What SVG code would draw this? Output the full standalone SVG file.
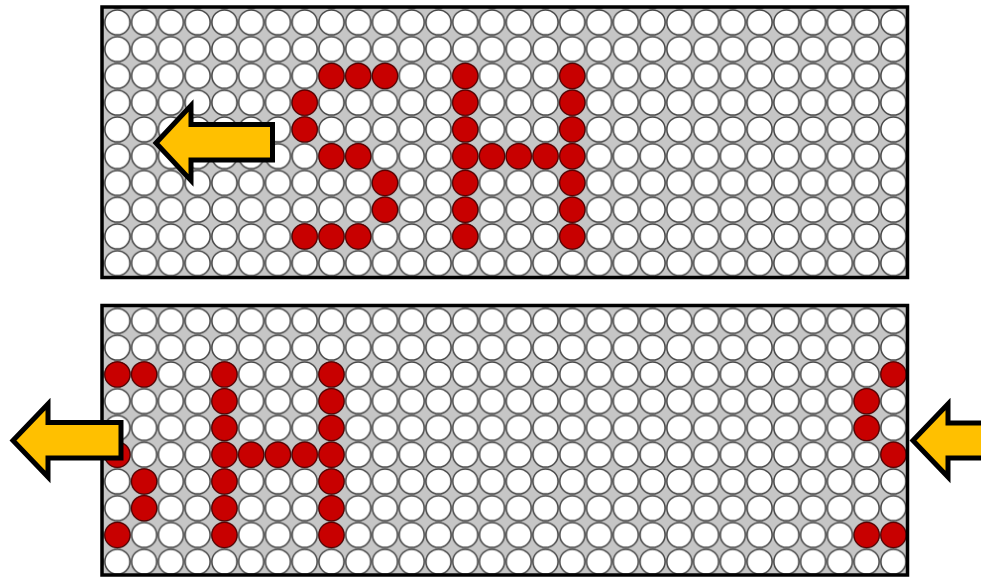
<svg xmlns="http://www.w3.org/2000/svg" xmlns:xlink="http://www.w3.org/1999/xlink" width="981" height="578" viewBox="0 0 981 578">
<style>
.bg{fill:#c6c6c6}
.dot{fill:#ffffff;stroke:#454545;stroke-width:1.5}
.red{fill:#c80000;stroke:#5a0000;stroke-width:1.2}
.frame{fill:none;stroke:#000000;stroke-width:3.5}
.arrow{fill:#ffc000;stroke:#000000;stroke-width:5;stroke-linejoin:miter;stroke-miterlimit:10}
</style>
<defs>
<pattern id="gridTop" patternUnits="userSpaceOnUse" x="104" y="9" width="26.76" height="26.76">
<rect class="bg" x="0" y="0" width="26.76" height="26.76"/>
<circle class="dot" cx="13.38" cy="13.38" r="12.5"/>
</pattern>
<pattern id="gridBottom" patternUnits="userSpaceOnUse" x="104" y="307.5" width="26.76" height="26.76">
<rect class="bg" x="0" y="0" width="26.76" height="26.76"/>
<circle class="dot" cx="13.38" cy="13.38" r="12.5"/>
</pattern>
<circle id="r" class="red" cx="0" cy="0" r="12.6"/>
</defs>
<rect width="981" height="578" fill="#ffffff"/>
<g id="panel-top">
<rect x="102" y="7" width="805.5" height="270.5" fill="url(#gridTop)"/>
<g id="top-lit">
<use xlink:href="#r" x="331.46" y="75.90"/><use xlink:href="#r" x="358.22" y="75.90"/><use xlink:href="#r" x="384.98" y="75.90"/><use xlink:href="#r" x="465.26" y="75.90"/><use xlink:href="#r" x="572.30" y="75.90"/>
<use xlink:href="#r" x="304.70" y="102.66"/><use xlink:href="#r" x="465.26" y="102.66"/><use xlink:href="#r" x="572.30" y="102.66"/>
<use xlink:href="#r" x="304.70" y="129.42"/><use xlink:href="#r" x="465.26" y="129.42"/><use xlink:href="#r" x="572.30" y="129.42"/>
<use xlink:href="#r" x="331.46" y="156.18"/><use xlink:href="#r" x="358.22" y="156.18"/><use xlink:href="#r" x="465.26" y="156.18"/><use xlink:href="#r" x="492.02" y="156.18"/><use xlink:href="#r" x="518.78" y="156.18"/><use xlink:href="#r" x="545.54" y="156.18"/><use xlink:href="#r" x="572.30" y="156.18"/>
<use xlink:href="#r" x="384.98" y="182.94"/><use xlink:href="#r" x="465.26" y="182.94"/><use xlink:href="#r" x="572.30" y="182.94"/>
<use xlink:href="#r" x="384.98" y="209.70"/><use xlink:href="#r" x="465.26" y="209.70"/><use xlink:href="#r" x="572.30" y="209.70"/>
<use xlink:href="#r" x="304.70" y="236.46"/><use xlink:href="#r" x="331.46" y="236.46"/><use xlink:href="#r" x="358.22" y="236.46"/><use xlink:href="#r" x="465.26" y="236.46"/><use xlink:href="#r" x="572.30" y="236.46"/>
</g>
<rect class="frame" x="102" y="7" width="805.5" height="270.5"/>
</g>
<g id="panel-bottom">
<rect x="102" y="305.5" width="805.5" height="269.5" fill="url(#gridBottom)"/>
<g id="bottom-lit">
<use xlink:href="#r" x="117.38" y="374.40"/><use xlink:href="#r" x="144.14" y="374.40"/><use xlink:href="#r" x="224.42" y="374.40"/><use xlink:href="#r" x="331.46" y="374.40"/><use xlink:href="#r" x="893.42" y="374.40"/>
<use xlink:href="#r" x="224.42" y="401.16"/><use xlink:href="#r" x="331.46" y="401.16"/><use xlink:href="#r" x="866.66" y="401.16"/>
<use xlink:href="#r" x="224.42" y="427.92"/><use xlink:href="#r" x="331.46" y="427.92"/><use xlink:href="#r" x="866.66" y="427.92"/>
<use xlink:href="#r" x="117.38" y="454.68"/><use xlink:href="#r" x="224.42" y="454.68"/><use xlink:href="#r" x="251.18" y="454.68"/><use xlink:href="#r" x="277.94" y="454.68"/><use xlink:href="#r" x="304.70" y="454.68"/><use xlink:href="#r" x="331.46" y="454.68"/><use xlink:href="#r" x="893.42" y="454.68"/>
<use xlink:href="#r" x="144.14" y="481.44"/><use xlink:href="#r" x="224.42" y="481.44"/><use xlink:href="#r" x="331.46" y="481.44"/>
<use xlink:href="#r" x="144.14" y="508.20"/><use xlink:href="#r" x="224.42" y="508.20"/><use xlink:href="#r" x="331.46" y="508.20"/>
<use xlink:href="#r" x="117.38" y="534.96"/><use xlink:href="#r" x="224.42" y="534.96"/><use xlink:href="#r" x="331.46" y="534.96"/><use xlink:href="#r" x="866.66" y="534.96"/><use xlink:href="#r" x="893.42" y="534.96"/>
</g>
<rect class="frame" x="102" y="305.5" width="805.5" height="269.5"/>
</g>
<g id="arrows">
<polygon id="arrow-top" class="arrow" points="156,143 191,105.5 191,124.5 272.5,124.5 272.5,160 191,160 191,180.5"/>
<polygon id="arrow-bottom-left" class="arrow" points="13,440.5 48,404 48,422.5 121,422.5 121,458 48,458 48,477"/>
<polygon id="arrow-bottom-right" class="arrow" points="913,440.5 948,404 948,423 995,423 995,458 948,458 948,477"/>
</g>
</svg>
